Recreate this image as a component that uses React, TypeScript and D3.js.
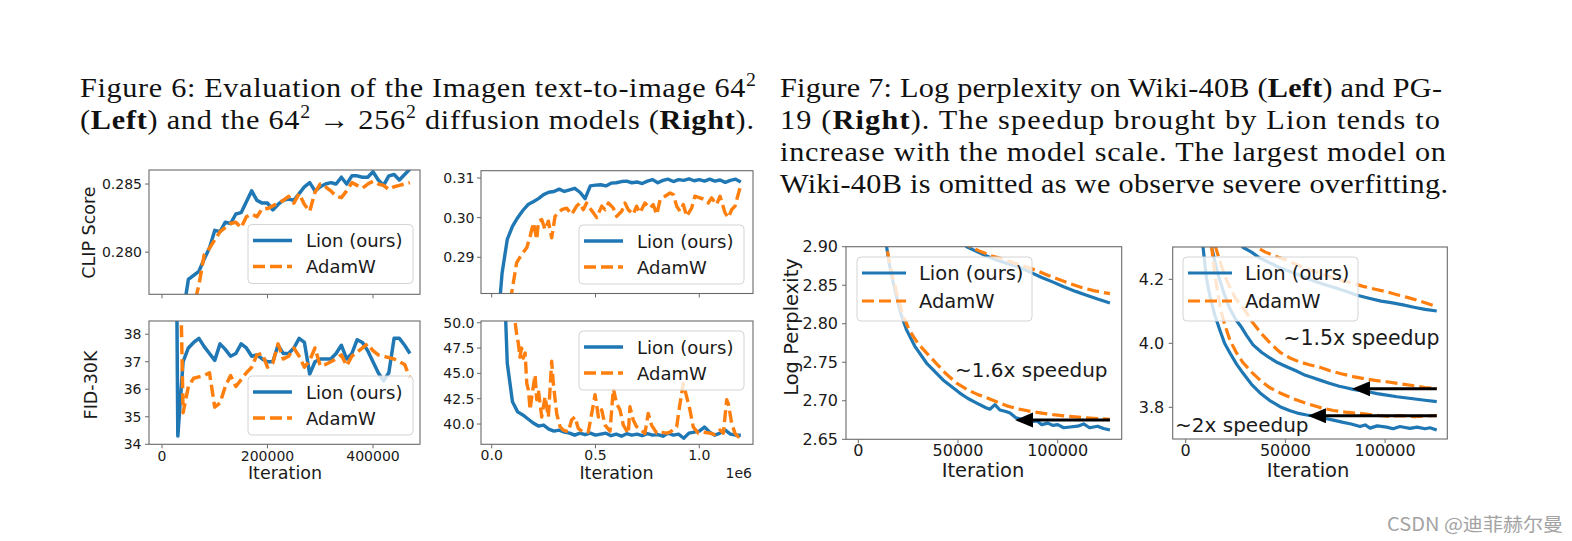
import React from "react";
import * as d3 from "d3";

const BLUE = "#1f77b4";
const ORANGE = "#ff7f0e";
const SANS = "'DejaVu Sans', Verdana, sans-serif";
const SERIF = "'Liberation Serif', 'Times New Roman', serif";
const TXT = "#1a1a1a";
const FR = "#6a6a6a";

// ---------------- Figure 6 data ----------------
const f6LeftIter = [20000, 30000, 40000, 50000, 60000, 70000, 80000, 90000, 100000, 110000, 120000, 130000, 140000, 150000, 160000, 170000, 180000, 190000, 200000, 210000, 220000, 230000, 240000, 250000, 260000, 270000, 280000, 290000, 300000, 310000, 320000, 330000, 340000, 350000, 360000, 370000, 380000, 390000, 400000, 410000, 420000, 430000, 440000, 450000, 460000, 470000];
const clipLeftLion = [0.2705, 0.2730, 0.2755, 0.2780, 0.2783, 0.2786, 0.2795, 0.2803, 0.2816, 0.2815, 0.2822, 0.2821, 0.2828, 0.2829, 0.2837, 0.2845, 0.2838, 0.2836, 0.2836, 0.2831, 0.2835, 0.2838, 0.2839, 0.2838, 0.2843, 0.2848, 0.2851, 0.2845, 0.2848, 0.2850, 0.2851, 0.2850, 0.2855, 0.2850, 0.2856, 0.2856, 0.2855, 0.2855, 0.2859, 0.2853, 0.2849, 0.2856, 0.2857, 0.2853, 0.2857, 0.2861];
const clipLeftAdam = [0.2680, 0.2700, 0.2720, 0.2740, 0.2760, 0.2776, 0.2798, 0.2803, 0.2809, 0.2815, 0.2818, 0.2821, 0.2822, 0.2818, 0.2826, 0.2828, 0.2826, 0.2832, 0.2832, 0.2834, 0.2836, 0.2838, 0.2841, 0.2836, 0.2843, 0.2835, 0.2830, 0.2844, 0.2850, 0.2848, 0.2845, 0.2841, 0.2840, 0.2845, 0.2851, 0.2849, 0.2847, 0.2850, 0.2852, 0.2850, 0.2849, 0.2846, 0.2848, 0.2849, 0.2850, 0.2851];
const fidLeftLion = [60, 34.3, 37.0, 37.5, 37.7, 37.85, 37.55, 37.3, 37.05, 37.65, 37.45, 37.2, 37.3, 37.65, 37.5, 37.2, 37.25, 37.1, 37.0, 37.0, 37.6, 37.3, 37.3, 37.5, 37.85, 37.7, 36.55, 37.0, 37.1, 37.1, 37.1, 37.3, 37.6, 37.1, 37.3, 37.8, 37.7, 37.4, 37.0, 36.6, 36.3, 36.6, 37.85, 37.85, 37.6, 37.3];
const fidLeftAdam = [55, 45, 35.15, 36.1, 36.4, 36.45, 36.5, 36.6, 35.35, 35.5, 36.1, 36.5, 36.1, 36.35, 36.6, 36.8, 37.25, 37.3, 36.8, 36.95, 37.65, 37.1, 37.2, 37.5, 37.2, 36.8, 37.05, 37.5, 36.85, 36.9, 37.0, 37.1, 37.25, 36.85, 37.2, 37.35, 37.5, 37.65, 37.4, 37.25, 37.2, 37.15, 37.1, 37.0, 36.9, 36.4];

const f6RightIter = [25000, 50000, 75000, 100000, 125000, 150000, 175000, 200000, 225000, 250000, 275000, 300000, 325000, 350000, 375000, 400000, 425000, 450000, 475000, 500000, 525000, 550000, 575000, 600000, 625000, 650000, 675000, 700000, 725000, 750000, 775000, 800000, 825000, 850000, 875000, 900000, 925000, 950000, 975000, 1000000, 1025000, 1050000, 1075000, 1100000, 1125000, 1150000, 1175000, 1200000];
const clipRightLion = [0.270, 0.2860, 0.2945, 0.2978, 0.3000, 0.3018, 0.3033, 0.3040, 0.3048, 0.3058, 0.3064, 0.3066, 0.3072, 0.3066, 0.3070, 0.3074, 0.3064, 0.3048, 0.3080, 0.3082, 0.3083, 0.3080, 0.3087, 0.3088, 0.3091, 0.3092, 0.3088, 0.3090, 0.3086, 0.3092, 0.3096, 0.3088, 0.3094, 0.3097, 0.3091, 0.3096, 0.3094, 0.3098, 0.3093, 0.3096, 0.3092, 0.3097, 0.3092, 0.3095, 0.3089, 0.3094, 0.3097, 0.3090];
const clipRightAdamIter = [90000, 120000, 144000, 169000, 185000, 201000, 209000, 217000, 225000, 241000, 257000, 273000, 289000, 305000, 321000, 337000, 361000, 385000, 409000, 425000, 441000, 457000, 473000, 490000, 506000, 530000, 546000, 562000, 586000, 602000, 626000, 642000, 658000, 682000, 698000, 714000, 738000, 762000, 778000, 795000, 811000, 835000, 859000, 875000, 891000, 907000, 923000, 939000, 963000, 979000, 1003000, 1027000, 1043000, 1059000, 1083000, 1100000, 1124000, 1140000, 1156000, 1172000, 1196000];
const clipRightAdam = [0.2790, 0.2886, 0.2907, 0.2924, 0.2953, 0.2987, 0.2966, 0.2945, 0.2991, 0.2995, 0.2970, 0.2991, 0.2949, 0.3003, 0.3012, 0.3020, 0.3024, 0.3008, 0.3029, 0.3037, 0.3020, 0.3037, 0.3024, 0.3012, 0.3000, 0.3029, 0.3020, 0.3037, 0.3024, 0.3003, 0.3016, 0.3037, 0.3020, 0.3008, 0.3029, 0.3012, 0.3037, 0.3024, 0.3033, 0.3008, 0.3045, 0.3054, 0.3062, 0.3058, 0.3029, 0.3016, 0.3033, 0.3003, 0.3024, 0.3054, 0.3050, 0.3045, 0.3037, 0.3050, 0.3033, 0.3054, 0.3012, 0.3000, 0.3020, 0.3029, 0.3075];
const fidRightLion = [80, 60, 46.0, 42.2, 41.2, 40.9, 40.5, 40.1, 39.8, 39.9, 39.5, 39.3, 39.4, 39.2, 39.1, 38.9, 39.1, 38.95, 39.1, 38.9, 39.0, 39.1, 38.85, 39.0, 38.8, 39.05, 38.9, 39.0, 38.85, 39.05, 38.9, 38.95, 38.8, 39.1, 38.9, 39.0, 38.6, 39.1, 39.2, 39.3, 39.7, 39.2, 38.9, 39.1, 39.4, 39.0, 38.9, 38.9];
const fidRightAdamIter = [100000, 112000, 120000, 128000, 136000, 144000, 152000, 161000, 169000, 177000, 185000, 193000, 209000, 217000, 225000, 241000, 257000, 273000, 289000, 297000, 313000, 329000, 345000, 369000, 385000, 401000, 417000, 441000, 465000, 482000, 498000, 514000, 530000, 546000, 570000, 586000, 602000, 618000, 634000, 658000, 666000, 682000, 698000, 714000, 738000, 754000, 770000, 795000, 811000, 843000, 859000, 891000, 907000, 923000, 939000, 955000, 971000, 995000, 1019000, 1051000, 1075000, 1100000, 1116000, 1132000, 1140000, 1156000, 1172000, 1188000, 1204000];
const fidRightAdam = [55, 50.2, 48.9, 48.0, 46.6, 47.5, 46.5, 47.0, 44.0, 43.35, 41.4, 42.7, 44.85, 42.4, 43.35, 40.7, 42.7, 40.7, 46.2, 44.0, 41.05, 39.74, 39.4, 39.24, 40.4, 40.7, 39.57, 39.2, 39.2, 41.05, 42.9, 40.7, 41.4, 39.9, 39.3, 43.5, 42.0, 41.4, 39.9, 39.08, 41.7, 40.4, 39.74, 39.5, 39.08, 41.05, 39.9, 39.1, 39.2, 39.1, 39.2, 39.74, 42.0, 44.0, 42.7, 41.4, 39.7, 39.1, 39.2, 39.1, 38.95, 39.4, 39.1, 42.4, 42.0, 40.07, 39.08, 38.75, 38.9];

// ---------------- Figure 7 data ----------------
const wikiSmallLionIter = [12000, 14200, 15500, 17200, 19200, 21200, 24200, 28300, 34200, 42500, 50900, 55000, 59400, 64000, 66000, 68500, 71000, 74000, 76100, 79000, 82000, 85000, 87000, 89500, 92000, 95000, 97700, 100000, 103000, 106200, 110000, 113000, 116000, 120000, 123000, 126200];
const wikiSmallLion = [2.96, 2.90, 2.878, 2.857, 2.835, 2.814, 2.792, 2.771, 2.749, 2.727, 2.71, 2.703, 2.697, 2.691, 2.689, 2.695, 2.688, 2.686, 2.684, 2.678, 2.676, 2.677, 2.673, 2.674, 2.669, 2.671, 2.668, 2.669, 2.665, 2.666, 2.667, 2.670, 2.665, 2.667, 2.664, 2.662];
const wikiSmallAdamIter = [12000, 14200, 15800, 17600, 19800, 22000, 25500, 30000, 35000, 39300, 44000, 49300, 55000, 60000, 64400, 70000, 75000, 81100, 87000, 92000, 97700, 105000, 114500, 120000, 126200];
const wikiSmallAdam = [2.96, 2.90, 2.878, 2.857, 2.835, 2.814, 2.792, 2.774, 2.760, 2.748, 2.735, 2.723, 2.714, 2.708, 2.704, 2.698, 2.693, 2.689, 2.686, 2.684, 2.682, 2.680, 2.678, 2.677, 2.676];
const wikiTopLionIter = [50000, 54400, 60000, 64400, 70000, 75000, 81100, 87000, 92000, 97700, 103000, 109000, 114500, 120000, 126200];
const wikiTopLion = [2.91, 2.90, 2.893, 2.888, 2.882, 2.878, 2.873, 2.866, 2.860, 2.854, 2.848, 2.842, 2.837, 2.832, 2.827];
const wikiTopAdamIter = [52000, 56000, 62000, 67000, 72600, 78000, 84000, 89500, 95000, 100000, 106200, 112000, 118000, 126200];
const wikiTopAdam = [2.91, 2.90, 2.893, 2.888, 2.884, 2.879, 2.874, 2.869, 2.863, 2.858, 2.852, 2.847, 2.843, 2.839];

const pgCLionIter = [7000, 8700, 10500, 12200, 14500, 17200, 19500, 22200, 25500, 28700, 33000, 37300, 42000, 47300, 52000, 56000, 60700, 65000, 70000, 74000, 79000, 83000, 87400, 90000, 92500, 96000, 100800, 104000, 107500, 110000, 112500, 116000, 120000, 122500, 125900];
const pgCLion = [4.36, 4.30, 4.20, 4.146, 4.09, 4.04, 4.00, 3.97, 3.935, 3.907, 3.872, 3.845, 3.822, 3.802, 3.790, 3.782, 3.776, 3.772, 3.765, 3.760, 3.753, 3.748, 3.740, 3.745, 3.735, 3.742, 3.738, 3.733, 3.740, 3.737, 3.734, 3.738, 3.733, 3.736, 3.729];
const pgCAdamIter = [11000, 13000, 15000, 17200, 19500, 22200, 25500, 28700, 33000, 37300, 42000, 47300, 54000, 60700, 67000, 74000, 80000, 87400, 94000, 100800, 108000, 115000, 120000, 125900];
const pgCAdam = [4.36, 4.30, 4.20, 4.114, 4.06, 4.01, 3.97, 3.94, 3.91, 3.885, 3.862, 3.845, 3.827, 3.812, 3.80, 3.79, 3.785, 3.781, 3.776, 3.772, 3.774, 3.771, 3.773, 3.774];
const pgBLionIter = [11000, 13000, 16000, 19000, 22000, 25000, 28000, 30500, 33800, 38000, 42000, 46000, 50600, 55000, 60000, 63500, 67300, 72000, 77000, 80500, 84000, 88000, 92000, 96000, 100800, 106000, 110000, 115000, 120000, 125900];
const pgBLion = [4.36, 4.30, 4.22, 4.16, 4.11, 4.075, 4.05, 4.025, 3.995, 3.972, 3.955, 3.94, 3.927, 3.915, 3.90, 3.893, 3.885, 3.875, 3.866, 3.861, 3.856, 3.852, 3.848, 3.843, 3.838, 3.833, 3.830, 3.826, 3.822, 3.818];
const pgBAdamIter = [13000, 15000, 18000, 21000, 25000, 29000, 33000, 38000, 42500, 47300, 52000, 57000, 62000, 67300, 72000, 78000, 84000, 90000, 95000, 100800, 108000, 115000, 120000, 125900];
const pgBAdam = [4.36, 4.30, 4.24, 4.19, 4.14, 4.11, 4.07, 4.03, 4.00, 3.972, 3.955, 3.942, 3.933, 3.925, 3.915, 3.905, 3.896, 3.889, 3.884, 3.88, 3.873, 3.867, 3.862, 3.859];
const pgALionIter = [25000, 28700, 33000, 37000, 42300, 47000, 52000, 59000, 65000, 70000, 75700, 81000, 86000, 92400, 98000, 103000, 109000, 115000, 120000, 125900];
const pgALion = [4.33, 4.30, 4.285, 4.267, 4.251, 4.237, 4.225, 4.208, 4.193, 4.183, 4.172, 4.161, 4.150, 4.14, 4.132, 4.127, 4.12, 4.112, 4.106, 4.101];
const pgAAdamIter = [31000, 35600, 40000, 45000, 50600, 56000, 62000, 67300, 73000, 78000, 84000, 89000, 95000, 100800, 106000, 112000, 118000, 125900];
const pgAAdam = [4.33, 4.30, 4.285, 4.272, 4.26, 4.245, 4.23, 4.219, 4.207, 4.197, 4.187, 4.178, 4.169, 4.161, 4.152, 4.142, 4.131, 4.115];

// arrows: [y value, start iteration, tip iteration]
const wikiArrow = [2.675, 126200, 78600];
const pgArrowTop = [3.858, 125900, 83400];
const pgArrowBottom = [3.774, 125900, 61300];

const f6LeftXTicks = [0, 200000, 400000];
const f6RightXTicks = [0, 500000, 1000000];
const f7XTicks = [0, 50000, 100000];
const clipLeftYTicks = [0.280, 0.285];
const clipRightYTicks = [0.29, 0.30, 0.31];
const fidLeftYTicks = [34, 35, 36, 37, 38];
const fidRightYTicks = [40.0, 42.5, 45.0, 47.5, 50.0];
const wikiYTicks = [2.65, 2.70, 2.75, 2.80, 2.85, 2.90];
const pgYTicks = [3.8, 4.0, 4.2];
const legendLabels = ["Lion (ours)", "AdamW"];

type Ser = { xs: number[]; ys: number[]; color: string; dash?: string; lw: number };
type Leg = { x0: number; x1: number; y0: number; y1: number; lx0: number; lx1: number; tx: number; cys: number[]; font: number; lw: number; dash: string };

function Panel(props: {
  id: string;
  box: number[];
  xd: number[];
  yd: number[];
  xTicks: number[];
  yTicks: number[];
  xFmt?: (v: number) => string;
  yFmt: (v: number) => string;
  tickFont: number;
  yGap: number;
  xLabDy: number;
  series: Ser[];
  legend: Leg;
  extra?: (x: any, y: any) => React.ReactNode;
}) {
  const { id, box, xd, yd, xTicks, yTicks, xFmt, yFmt, tickFont, yGap, xLabDy, series, legend, extra } = props;
  const [bx0, bx1, by0, by1] = box;
  const x = d3.scaleLinear().domain(xd).range([bx0, bx1]);
  const y = d3.scaleLinear().domain(yd).range([by1, by0]);
  const line = d3.line<[number, number]>().x((d) => x(d[0])).y((d) => y(d[1]));
  const L = legend;
  return (
    <g>
      <defs>
        <clipPath id={id}>
          <rect x={bx0} y={by0} width={bx1 - bx0} height={by1 - by0} />
        </clipPath>
      </defs>
      <g clipPath={`url(#${id})`}>
        {series.map((s, i) => (
          <path
            key={i}
            d={line(s.xs.map((v, j) => [v, s.ys[j]] as [number, number])) || ""}
            fill="none"
            stroke={s.color}
            strokeWidth={s.lw}
            strokeDasharray={s.dash}
            strokeLinejoin="round"
          />
        ))}
      </g>
      <rect x={bx0} y={by0} width={bx1 - bx0} height={by1 - by0} fill="none" stroke={FR} strokeWidth={1.1} />
      {xTicks.map((t) => (
        <line key={"xt" + t} x1={x(t)} x2={x(t)} y1={by1} y2={by1 + 4} stroke={FR} strokeWidth={1} />
      ))}
      {xFmt &&
        xTicks.map((t) => (
          <text key={"xl" + t} x={x(t)} y={by1 + xLabDy} textAnchor="middle" dominantBaseline="central" fontSize={tickFont} fill={TXT}>
            {xFmt(t)}
          </text>
        ))}
      {yTicks.map((t) => (
        <line key={"yt" + t} x1={bx0 - 4} x2={bx0} y1={y(t)} y2={y(t)} stroke={FR} strokeWidth={1} />
      ))}
      {yTicks.map((t) => (
        <text key={"yl" + t} x={bx0 - yGap} y={y(t)} textAnchor="end" dominantBaseline="central" fontSize={tickFont} fill={TXT}>
          {yFmt(t)}
        </text>
      ))}
      {extra && extra(x, y)}
      <rect x={L.x0} y={L.y0} width={L.x1 - L.x0} height={L.y1 - L.y0} rx={4} fill="white" fillOpacity={0.8} stroke="#d4d4d4" strokeWidth={1} />
      {legendLabels.map((lab, i) => (
        <g key={lab}>
          <line x1={L.lx0} x2={L.lx1} y1={L.cys[i]} y2={L.cys[i]} stroke={i === 0 ? BLUE : ORANGE} strokeWidth={L.lw} strokeDasharray={i === 0 ? undefined : L.dash} />
          <text x={L.tx} y={L.cys[i]} dominantBaseline="central" fontSize={L.font} fill={TXT}>
            {lab}
          </text>
        </g>
      ))}
    </g>
  );
}

function Arrow({ x, y, a }: { x: any; y: any; a: number[] }) {
  const yy = y(a[0]);
  const xs = x(a[1]);
  const xt = x(a[2]);
  const hl = 18;
  const hw = 7.5;
  return (
    <g>
      <line x1={xs} x2={xt + hl - 1} y1={yy} y2={yy} stroke="#000" strokeWidth={3} />
      <polygon points={`${xt},${yy} ${xt + hl},${yy - hw} ${xt + hl},${yy + hw}`} fill="#000" />
    </g>
  );
}

// caption line: horizontally widened serif text, justified to a measured width
const CAP_SX = 1.1;
function CapLine({ x, y, len, children }: { x: number; y: number; len: number; children: React.ReactNode }) {
  return (
    <g transform={`translate(${x},${y}) scale(${CAP_SX},1)`}>
      <text x={0} y={0} textLength={len / CAP_SX} lengthAdjust="spacing">
        {children}
      </text>
    </g>
  );
}

const f6Dash = "12,5";
const f7Dash = "12,5";

export default function App() {
  const fmt3 = (v: number) => v.toFixed(3);
  const fmt2 = (v: number) => v.toFixed(2);
  const fmt1 = (v: number) => v.toFixed(1);
  const fmt0 = (v: number) => String(v);
  const fmtE6 = (v: number) => (v / 1e6).toFixed(1);

  const f6Leg = (x0: number, y0: number): Leg => ({
    x0, x1: x0 + 165, y0, y1: y0 + 59, lx0: x0 + 5, lx1: x0 + 44, tx: x0 + 58, cys: [y0 + 16, y0 + 42], font: 18, lw: 3.5, dash: f6Dash,
  });
  const f7Leg = (x0: number, y0: number): Leg => ({
    x0, x1: x0 + 175, y0, y1: y0 + 64, lx0: x0 + 5, lx1: x0 + 49, tx: x0 + 62, cys: [y0 + 16, y0 + 44], font: 19.5, lw: 3, dash: f7Dash,
  });

  return (
    <svg width={1572} height={541} style={{ position: "absolute", left: 0, top: 0, background: "#fff" }} fontFamily={SANS}>
      <rect x={0} y={0} width={1572} height={541} fill="#fff" />
      {/* Captions */}
      <g fontFamily={SERIF} fontSize={27.5} fill="#111">
        <CapLine x={80} y={97} len={676}>
          Figure 6: Evaluation of the Imagen text-to-image 64<tspan dy={-11} fontSize={18}>2</tspan>
        </CapLine>
        <CapLine x={80} y={129} len={674}>
          (<tspan fontWeight="bold">Left</tspan>) and the 64<tspan dy={-11} fontSize={18}>2</tspan>
          <tspan dy={11}>{" \u2192 256"}</tspan>
          <tspan dy={-11} fontSize={18}>2</tspan>
          <tspan dy={11}>{" diffusion models ("}</tspan>
          <tspan fontWeight="bold">Right</tspan>).
        </CapLine>
        <CapLine x={780} y={97} len={662}>
          Figure 7: Log perplexity on Wiki-40B (<tspan fontWeight="bold">Left</tspan>) and PG-
        </CapLine>
        <CapLine x={780} y={129} len={660}>
          19 (<tspan fontWeight="bold">Right</tspan>
          {").  The speedup brought by Lion tends to"}
        </CapLine>
        <CapLine x={780} y={161} len={666}>
          increase with the model scale. The largest model on
        </CapLine>
        <CapLine x={780} y={192.5} len={668}>
          Wiki-40B is omitted as we observe severe overfitting.
        </CapLine>
      </g>

      {/* Figure 6 panels */}
      <Panel
        id="c1"
        box={[149, 420, 170, 294.3]}
        xd={[-24640, 489100]}
        yd={[0.27691, 0.28603]}
        xTicks={f6LeftXTicks}
        yTicks={clipLeftYTicks}
        yFmt={fmt3}
        tickFont={14}
        yGap={7}
        xLabDy={12}
        series={[
          { xs: f6LeftIter, ys: clipLeftLion, color: BLUE, lw: 3.5 },
          { xs: f6LeftIter, ys: clipLeftAdam, color: ORANGE, lw: 3.5, dash: f6Dash },
        ]}
        legend={f6Leg(248, 224.5)}
      />
      <Panel
        id="c2"
        box={[481, 753, 170.7, 293.5]}
        xd={[-51540, 1258700]}
        yd={[0.28086, 0.31184]}
        xTicks={f6RightXTicks}
        yTicks={clipRightYTicks}
        yFmt={fmt2}
        tickFont={14}
        yGap={6.5}
        xLabDy={12}
        series={[
          { xs: f6RightIter, ys: clipRightLion, color: BLUE, lw: 3.4 },
          { xs: clipRightAdamIter, ys: clipRightAdam, color: ORANGE, lw: 3.4, dash: f6Dash },
        ]}
        legend={f6Leg(579, 225)}
      />
      <Panel
        id="c3"
        box={[149, 420, 321, 444.3]}
        xd={[-24640, 489100]}
        yd={[34, 38.48]}
        xTicks={f6LeftXTicks}
        yTicks={fidLeftYTicks}
        xFmt={fmt0}
        yFmt={fmt0}
        tickFont={14}
        yGap={7.5}
        xLabDy={12}
        series={[
          { xs: f6LeftIter, ys: fidLeftLion, color: BLUE, lw: 3.5 },
          { xs: f6LeftIter, ys: fidLeftAdam, color: ORANGE, lw: 3.5, dash: f6Dash },
        ]}
        legend={f6Leg(248, 376)}
      />
      <Panel
        id="c4"
        box={[481, 753, 321, 444.3]}
        xd={[-51540, 1258700]}
        yd={[38.0, 50.17]}
        xTicks={f6RightXTicks}
        yTicks={fidRightYTicks}
        xFmt={fmtE6}
        yFmt={fmt1}
        tickFont={14}
        yGap={6.5}
        xLabDy={11}
        series={[
          { xs: f6RightIter, ys: fidRightLion, color: BLUE, lw: 3.4 },
          { xs: fidRightAdamIter, ys: fidRightAdam, color: ORANGE, lw: 3.4, dash: f6Dash },
        ]}
        legend={f6Leg(579, 331)}
      />
      <g fontSize={17.5} fill={TXT}>
        <text transform="translate(89,232.5) rotate(-90)" textAnchor="middle" dominantBaseline="central">CLIP Score</text>
        <text transform="translate(90.5,385) rotate(-90)" textAnchor="middle" dominantBaseline="central">FID-30K</text>
        <text x={285} y={473} textAnchor="middle" dominantBaseline="central">Iteration</text>
        <text x={616.5} y={473} textAnchor="middle" dominantBaseline="central">Iteration</text>
      </g>
      <text x={752} y={472.5} textAnchor="end" dominantBaseline="central" fontSize={14} fill={TXT}>1e6</text>

      {/* Figure 7 panels */}
      <Panel
        id="w1"
        box={[846, 1121.7, 246.7, 439.3]}
        xd={[-6170, 132100]}
        yd={[2.65, 2.90]}
        xTicks={f7XTicks}
        yTicks={wikiYTicks}
        xFmt={fmt0}
        yFmt={fmt2}
        tickFont={16}
        yGap={8}
        xLabDy={11.5}
        series={[
          { xs: wikiSmallLionIter, ys: wikiSmallLion, color: BLUE, lw: 3.2 },
          { xs: wikiTopLionIter, ys: wikiTopLion, color: BLUE, lw: 3.2 },
          { xs: wikiSmallAdamIter, ys: wikiSmallAdam, color: ORANGE, lw: 3.2, dash: f7Dash },
          { xs: wikiTopAdamIter, ys: wikiTopAdam, color: ORANGE, lw: 3.2, dash: f7Dash },
        ]}
        legend={f7Leg(857, 257)}
        extra={(x, y) => (
          <g>
            <Arrow x={x} y={y} a={wikiArrow} />
            <text x={x(48500)} y={y(2.7307)} fontSize={20} fill={TXT}>~1.6x speedup</text>
          </g>
        )}
      />
      <Panel
        id="p1"
        box={[1172.7, 1447.3, 247, 439]}
        xd={[-6520, 131190]}
        yd={[3.701, 4.301]}
        xTicks={f7XTicks}
        yTicks={pgYTicks}
        xFmt={fmt0}
        yFmt={fmt1}
        tickFont={16}
        yGap={8.5}
        xLabDy={11.5}
        series={[
          { xs: pgCLionIter, ys: pgCLion, color: BLUE, lw: 3.2 },
          { xs: pgBLionIter, ys: pgBLion, color: BLUE, lw: 3.2 },
          { xs: pgALionIter, ys: pgALion, color: BLUE, lw: 3.2 },
          { xs: pgCAdamIter, ys: pgCAdam, color: ORANGE, lw: 3.2, dash: f7Dash },
          { xs: pgBAdamIter, ys: pgBAdam, color: ORANGE, lw: 3.2, dash: f7Dash },
          { xs: pgAAdamIter, ys: pgAAdam, color: ORANGE, lw: 3.2, dash: f7Dash },
        ]}
        legend={f7Leg(1183, 257)}
        extra={(x, y) => (
          <g>
            <Arrow x={x} y={y} a={pgArrowTop} />
            <Arrow x={x} y={y} a={pgArrowBottom} />
            <text x={x(48900)} y={y(3.995)} fontSize={20.5} fill={TXT}>~1.5x speedup</text>
            <text x={x(-5350)} y={y(3.723)} fontSize={20} fill={TXT}>~2x speedup</text>
          </g>
        )}
      />
      <g fontSize={19.5} fill={TXT}>
        <text transform="translate(791.5,327) rotate(-90)" textAnchor="middle" dominantBaseline="central">Log Perplexity</text>
        <text x={983} y={470} textAnchor="middle" dominantBaseline="central">Iteration</text>
        <text x={1308} y={470} textAnchor="middle" dominantBaseline="central">Iteration</text>
      </g>

      {/* watermark */}
      <text x={1387} y={523} textLength={176} lengthAdjust="spacingAndGlyphs" dominantBaseline="central" fontFamily="'Noto Sans CJK SC', 'Noto Sans', sans-serif" fontSize={18.5} fill="#a3a3a3">
        CSDN @迪菲赫尔曼
      </text>
    </svg>
  );
}
